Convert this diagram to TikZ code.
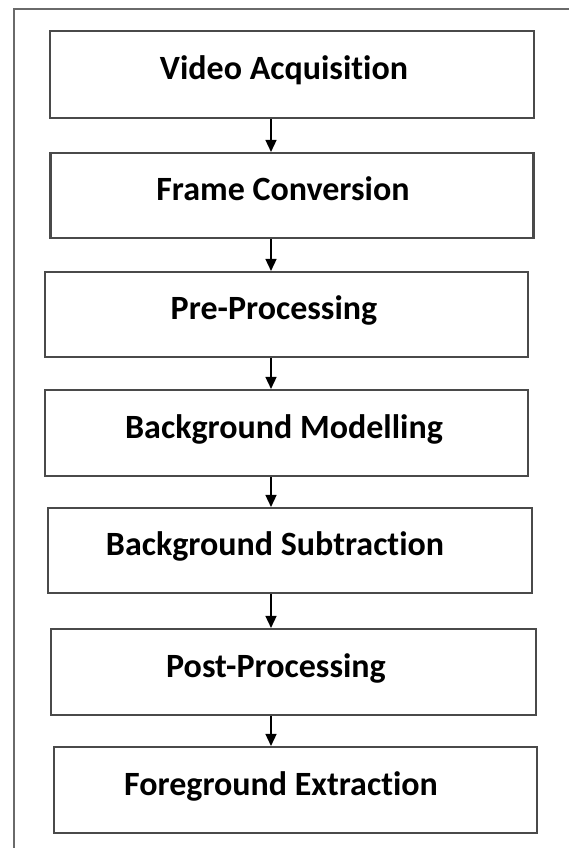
\documentclass[tikz,border=0pt]{standalone}
\usepackage{fontspec}
\setmainfont[Ligatures=NoCommon]{Carlito}
\usetikzlibrary{arrows.meta}
\definecolor{boxline}{HTML}{4A4A4A}
\definecolor{frameline}{HTML}{6A6A6A}
\tikzset{
  stepbox/.style={draw=boxline, line width=2.1pt, rectangle, inner sep=0pt, fill=white},
  steptext/.style={font=\bfseries\fontsize{34}{40}\selectfont, inner sep=0pt, text height=22pt, text depth=12pt, anchor=center},
  arr/.style={draw=black, line width=1.5pt, -{Triangle[length=12pt,width=11pt]}},
}
\begin{document}
\begin{tikzpicture}[x=1pt,y=-1pt]
\useasboundingbox (0,0) rectangle (569,848);
\fill[white] (0,0) rectangle (569,848);
% outer frame (cut by the picture edge on right and bottom)
\draw[frameline, line width=2.2pt] (14,848) -- (14,9) -- (569,9);
% boxes
\node[stepbox, minimum width=484pt, minimum height=87pt] (b1) at (292,74.5) {};
\node[stepbox, minimum width=483pt, minimum height=85pt] (b2) at (292,195.5) {};
\node[stepbox, minimum width=483pt, minimum height=85pt] (b3) at (286.5,314.5) {};
\node[stepbox, minimum width=483pt, minimum height=86pt] (b4) at (286.5,433) {};
\node[stepbox, minimum width=484pt, minimum height=85pt] (b5) at (290,550.5) {};
\node[stepbox, minimum width=485pt, minimum height=86pt] (b6) at (293.5,672) {};
\node[stepbox, minimum width=483pt, minimum height=86pt] (b7) at (295.5,790) {};
% texts
\node[steptext] (t1) at (284,74.5) {Video Acquisition};
\node[steptext] (t2) at (283,195.5) {Frame Conversion};
\node[steptext] (t3) at (274,314.5) {Pre-Processing};
\node[steptext] (t4) at (284,433) {Background Modelling};
\node[steptext] (t5) at (275,550.5) {Background Subtraction};
\node[steptext] (t6) at (276,672) {Post-Processing};
\node[steptext] (t7) at (281,790) {Foreground Extraction};
% arrows
\coordinate (ax) at (271,0);
\draw[arr] (ax |- b1.south) -- (ax |- b2.north);
\draw[arr] (ax |- b2.south) -- (ax |- b3.north);
\draw[arr] (ax |- b3.south) -- (ax |- b4.north);
\draw[arr] (ax |- b4.south) -- (ax |- b5.north);
\draw[arr] (ax |- b5.south) -- (ax |- b6.north);
\draw[arr] (ax |- b6.south) -- (ax |- b7.north);
\end{tikzpicture}
\end{document}
